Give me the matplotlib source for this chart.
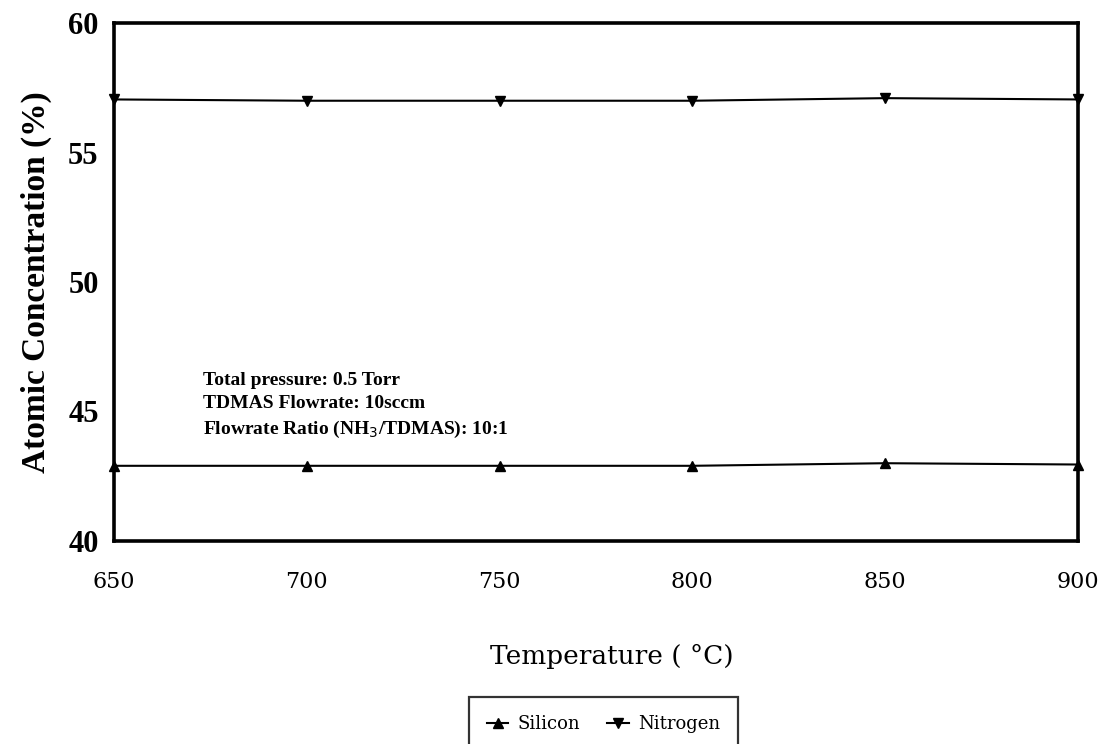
import matplotlib.pyplot as plt
import numpy as np

# data
temperature = [650, 700, 750, 800, 850, 900]
silicon = [42.9, 42.9, 42.9, 42.9, 43.0, 42.95]
nitrogen = [57.05, 57.0, 57.0, 57.0, 57.1, 57.05]

x_ticks = [650, 700, 750, 800, 850, 900]
y_ticks = [40, 45, 50, 55, 60]

fig = plt.figure(figsize=(11.01, 7.44), dpi=100)
ax = fig.add_axes([0.1035, 0.273, 0.8755, 0.696])

ax.plot(temperature, silicon, color="black", linewidth=1.5, marker="^",
        markersize=7, label="Silicon", clip_on=False)
ax.plot(temperature, nitrogen, color="black", linewidth=1.5, marker="v",
        markersize=7, label="Nitrogen", clip_on=False)

ax.set_xlim(650, 900)
ax.set_ylim(40, 60)
ax.set_xticks(x_ticks)
ax.set_yticks(y_ticks)
ax.set_xticklabels([str(t) for t in x_ticks], family="DejaVu Serif", fontsize=16)
ax.set_yticklabels([str(t) for t in y_ticks], family="Liberation Serif",
                   fontsize=22, fontweight="bold")
ax.tick_params(axis="both", length=0)
ax.tick_params(axis="x", pad=22)
ax.tick_params(axis="y", pad=11)

for side in ["left", "right", "top", "bottom"]:
    ax.spines[side].set_linewidth(2.6)
    ax.spines[side].set_color("black")

ax.set_xlabel("Temperature ( °C)", family="DejaVu Serif", fontsize=19, labelpad=26)
ax.xaxis.set_label_coords(0.517, -0.2)
ax.set_ylabel("Atomic Concentration (%)", family="Liberation Serif", fontsize=24,
              fontweight="bold", labelpad=12)

# condition text
ax.text(0.092, 0.26,
        "Total pressure: 0.5 Torr\nTDMAS Flowrate: 10sccm\n"
        "Flowrate Ratio (NH$_3$/TDMAS): 10:1",
        transform=ax.transAxes, family="Liberation Serif", fontsize=14,
        fontweight="bold", va="center", ha="left", linespacing=1.45)

leg = fig.legend(loc="upper center", bbox_to_anchor=(0.548, 1 - 697 / 744),
                 ncol=2, frameon=True, fancybox=False, edgecolor="black",
                 prop={"family": "DejaVu Serif", "size": 13},
                 handlelength=1.2, handletextpad=0.5, columnspacing=1.5,
                 borderpad=1.0, borderaxespad=0)
leg.get_frame().set_linewidth(1.6)

fig.savefig("out.png", dpi=100)
